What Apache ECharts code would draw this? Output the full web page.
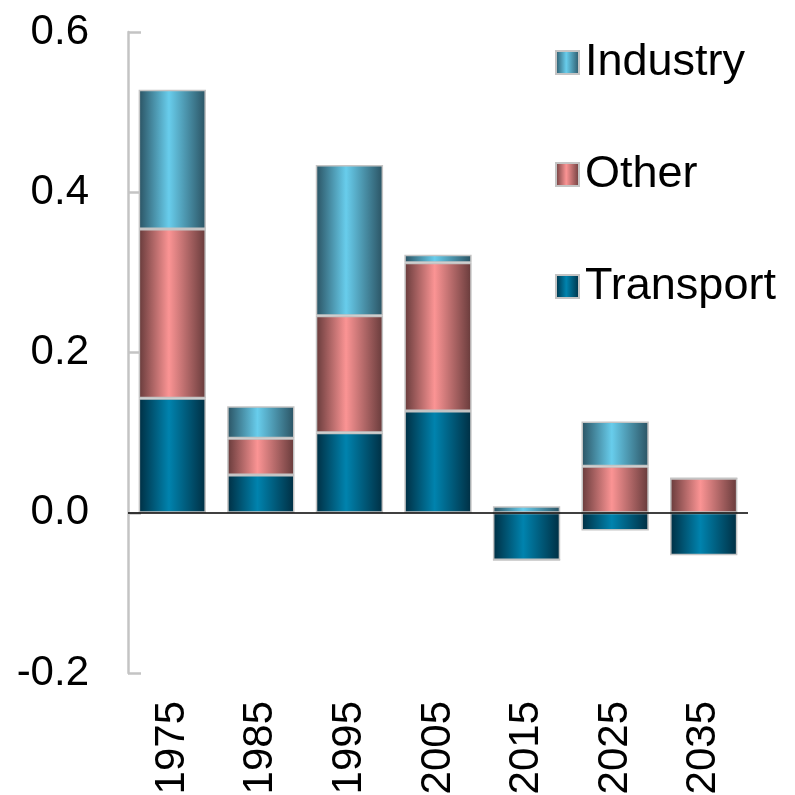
<!DOCTYPE html>
<html>
<head>
<meta charset="utf-8">
<script src="https://cdn.jsdelivr.net/npm/echarts@6/dist/echarts.min.js"></script>
<style>html,body{margin:0;padding:0;background:#fff}#c{width:795px;height:795px}</style>
</head>
<body>
<div id="c"></div>
<script>
var categories = ['1975', '1985', '1995', '2005', '2015', '2025', '2035'];
var transport = [0.143, 0.047, 0.100, 0.127, -0.059, -0.022, -0.053];
var other = [0.211, 0.046, 0.146, 0.185, 0, 0.058, 0.043];
var industry = [0.174, 0.040, 0.188, 0.010, 0.008, 0.056, 0];
var yTicks = [-0.2, 0.0, 0.2, 0.4, 0.6];

function grad(edge, mid) {
  return new echarts.graphic.LinearGradient(0, 0, 1, 0, [
    {offset: 0, color: edge},
    {offset: 0.45, color: mid},
    {offset: 1, color: edge}
  ]);
}
var FONT = 'Liberation Sans';
var chart = echarts.init(document.getElementById('c'), null, {renderer: 'canvas'});
function barSeries(name, data, edge, mid, withLine) {
  var s = {
    name: name, type: 'bar', stack: 'total', data: data, barWidth: '76%',
    itemStyle: {color: grad(edge, mid), borderColor: '#c4c4c4', borderWidth: 1.5},
    emphasis: {disabled: true}
  };
  if (withLine) {
    s.markLine = {
      silent: true, symbol: 'none', label: {show: false},
      lineStyle: {color: '#000', width: 1.5, type: 'solid'},
      data: [{yAxis: 0}]
    };
  }
  return s;
}
chart.setOption({
  animation: false,
  textStyle: {fontFamily: FONT},
  grid: {left: 128, right: 47, top: 32, bottom: 122, containLabel: false, outerBoundsMode: 'none'},
  legend: {
    orient: 'vertical', left: 550, top: 35, itemWidth: 23, itemHeight: 23, itemGap: 67,
    icon: 'rect',
    data: ['Industry', 'Other', 'Transport'],
    textStyle: {fontSize: 45, color: '#000', fontFamily: FONT, padding: [0, 0, 0, 1]}
  },
  xAxis: {
    type: 'category', data: categories,
    axisLine: {show: false}, axisTick: {show: false},
    axisLabel: {rotate: 90, fontSize: 42, color: '#000', margin: 28, fontFamily: FONT}
  },
  yAxis: {
    type: 'value', min: yTicks[0], max: yTicks[yTicks.length - 1], interval: 0.2,
    splitLine: {show: false},
    axisLine: {show: true, lineStyle: {color: '#c4c4c4', width: 2.5}},
    axisTick: {show: true, inside: true, length: 13, lineStyle: {color: '#c4c4c4', width: 2.5}},
    axisLabel: {fontSize: 42, color: '#000', margin: 39, fontFamily: FONT,
      formatter: function (v) { return v.toFixed(1); }}
  },
  series: [
    barSeries('Transport', transport, '#002e42', '#0083ae', true),
    barSeries('Other', other, '#663a3a', '#fb9494', false),
    barSeries('Industry', industry, '#2a5262', '#68cdec', false)
  ]
});
</script>
</body>
</html>
